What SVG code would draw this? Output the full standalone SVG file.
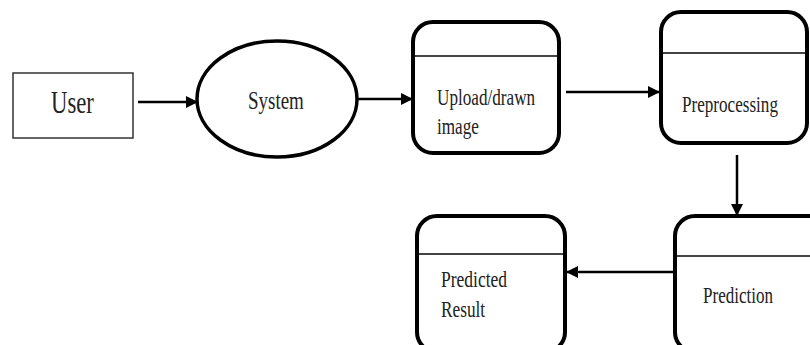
<svg xmlns="http://www.w3.org/2000/svg" width="810" height="345" viewBox="0 0 810 345">
<style>
.box{fill:#fff;stroke:#000;stroke-width:4}
.div{stroke:#444;stroke-width:2}
.lbl{font-family:"Liberation Serif","Times New Roman",serif;fill:#222;font-size:24px}
.conn{stroke:#000;stroke-width:2.5;fill:none}
</style>
<defs>
<marker id="ah" markerUnits="userSpaceOnUse" markerWidth="14" markerHeight="14" viewBox="0 0 14 14" refX="13" refY="7" orient="auto">
<path d="M1,1 L13,7 L1,13 Z" fill="#000"/>
</marker>
</defs>
<rect width="810" height="345" fill="#fff"/>
<g id="user">
<rect x="13" y="73" width="120" height="65" fill="#fff" stroke="#333" stroke-width="1.5"/>
<text class="lbl" transform="translate(51,113) scale(0.71,1)" style="font-size:32px">User</text>
</g>
<g id="system">
<ellipse cx="277" cy="99" rx="80" ry="58" fill="#fff" stroke="#000" stroke-width="3.5"/>
<text class="lbl" transform="translate(248,109) scale(0.73,1)" style="font-size:26px">System</text>
</g>
<g id="upload">
<rect class="box" x="413" y="22" width="146" height="131" rx="20"/>
<line class="div" x1="415" y1="56" x2="557" y2="56"/>
<text class="lbl" transform="translate(437,105) scale(0.715,1)">Upload/drawn</text>
<text class="lbl" transform="translate(437,134) scale(0.715,1)">image</text>
</g>
<g id="preprocessing">
<rect class="box" x="661" y="12" width="146" height="131" rx="20"/>
<line class="div" x1="663" y1="53" x2="805" y2="53"/>
<text class="lbl" transform="translate(682,112) scale(0.713,1)">Preprocessing</text>
</g>
<g id="prediction">
<rect class="box" x="675" y="216" width="160" height="136" rx="20"/>
<line class="div" x1="677" y1="256" x2="833" y2="256"/>
<text class="lbl" transform="translate(703,303) scale(0.71,1)">Prediction</text>
</g>
<g id="predicted-result">
<rect class="box" x="417" y="216" width="148" height="136" rx="20"/>
<line class="div" x1="419" y1="254" x2="563" y2="254"/>
<text class="lbl" transform="translate(441,287) scale(0.73,1)">Predicted</text>
<text class="lbl" transform="translate(441,317) scale(0.72,1)">Result</text>
</g>
<g id="connectors">
<line class="conn" x1="138" y1="102" x2="198" y2="102" marker-end="url(#ah)"/>
<line class="conn" x1="357" y1="99" x2="413" y2="99" marker-end="url(#ah)"/>
<line class="conn" x1="566" y1="92" x2="660" y2="92" marker-end="url(#ah)"/>
<line class="conn" x1="737" y1="155" x2="737" y2="216" stroke-width="2" marker-end="url(#ah)"/>
<line class="conn" x1="675" y1="272" x2="566" y2="272" marker-end="url(#ah)"/>
</g>
</svg>
